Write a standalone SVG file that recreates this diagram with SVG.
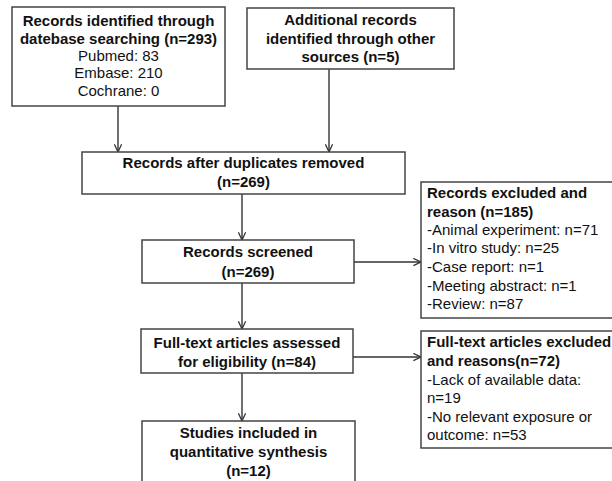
<svg xmlns="http://www.w3.org/2000/svg" width="612" height="481" viewBox="0 0 612 481">
<style>
.box{fill:#fff;stroke:#444;stroke-width:1.5}
text{font-family:"Liberation Sans",Arial,sans-serif;font-size:15px;fill:#111}
.b{font-weight:bold}
.c{text-anchor:middle}
.con{stroke:#333;stroke-width:1.4;fill:none;marker-end:url(#ah)}
</style>
<defs>
<marker id="ah" viewBox="0 0 10 10" refX="9.5" refY="5" markerWidth="9" markerHeight="9" markerUnits="userSpaceOnUse" orient="auto">
<path d="M1,1 L9.5,5 L1,9" fill="none" stroke="#333" stroke-width="1.4"/>
</marker>
</defs>
<rect width="612" height="481" fill="#fff"/>
<g id="connectors">
<line class="con" x1="118" y1="106" x2="118" y2="152"/>
<line class="con" x1="329" y1="69" x2="329" y2="152"/>
<line class="con" x1="242" y1="194" x2="242" y2="240"/>
<line class="con" x1="354" y1="262" x2="421" y2="262"/>
<line class="con" x1="242" y1="283" x2="242" y2="329"/>
<line class="con" x1="353" y1="357" x2="421" y2="357"/>
<line class="con" x1="242" y1="373" x2="242" y2="421"/>
</g>
<g id="n1">
<rect class="box" x="12" y="7" width="213" height="99"/>
<text class="b c" x="118.5" y="26">Records identified through</text>
<text class="b c" x="118.5" y="44">datebase searching (n=293)</text>
<text class="c" x="118.5" y="61">Pubmed: 83</text>
<text class="c" x="118.5" y="78">Embase: 210</text>
<text class="c" x="118.5" y="96">Cochrane: 0</text>
</g>
<g id="n2">
<rect class="box" x="247" y="8" width="207" height="61"/>
<text class="b c" x="350.5" y="25">Additional records</text>
<text class="b c" x="350.5" y="44">identified through other</text>
<text class="b c" x="350.5" y="62">sources (n=5)</text>
</g>
<g id="n3">
<rect class="box" x="82" y="152" width="323" height="42"/>
<text class="b c" x="243.5" y="168">Records after duplicates removed</text>
<text class="b c" x="243.5" y="187">(n=269)</text>
</g>
<g id="n4">
<rect class="box" x="142" y="240" width="212" height="43"/>
<text class="b c" x="248" y="257">Records screened</text>
<text class="b c" x="248" y="277">(n=269)</text>
</g>
<g id="n5">
<rect class="box" x="421" y="182" width="200" height="136"/>
<text class="b" x="427" y="198">Records excluded and</text>
<text class="b" x="427" y="217">reason (n=185)</text>
<text x="427" y="235">-Animal experiment: n=71</text>
<text x="427" y="253">-In vitro study: n=25</text>
<text x="427" y="272">-Case report: n=1</text>
<text x="427" y="291">-Meeting abstract: n=1</text>
<text x="427" y="309">-Review: n=87</text>
</g>
<g id="n6">
<rect class="box" x="141" y="329" width="212" height="44"/>
<text class="b c" x="247" y="348">Full-text articles assessed</text>
<text class="b c" x="247" y="367">for eligibility (n=84)</text>
</g>
<g id="n7">
<rect class="box" x="421" y="331" width="200" height="117"/>
<text class="b" x="427" y="347">Full-text articles excluded</text>
<text class="b" x="427" y="366">and reasons(n=72)</text>
<text x="427" y="385">-Lack of available data:</text>
<text x="427" y="403">n=19</text>
<text x="427" y="422">-No relevant exposure or</text>
<text x="427" y="440">outcome: n=53</text>
</g>
<g id="n8">
<rect class="box" x="142" y="421" width="213" height="70"/>
<text class="b c" x="248.5" y="438">Studies included in</text>
<text class="b c" x="248.5" y="457">quantitative synthesis</text>
<text class="b c" x="248.5" y="476">(n=12)</text>
</g>
</svg>
